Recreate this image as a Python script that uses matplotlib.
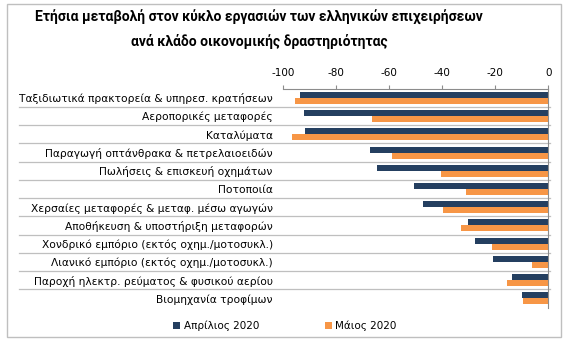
import numpy as np
import matplotlib.pyplot as plt
from matplotlib.patches import Rectangle
from matplotlib.transforms import blended_transform_factory

# δεδομένα (ετήσια μεταβολή %, ανά κλάδο)
categories = [
    "Ταξιδιωτικά πρακτορεία & υπηρεσ. κρατήσεων",
    "Αεροπορικές μεταφορές",
    "Καταλύματα",
    "Παραγωγή οπτάνθρακα & πετρελαιοειδών",
    "Πωλήσεις & επισκευή οχημάτων",
    "Ποτοποιία",
    "Χερσαίες μεταφορές & μεταφ. μέσω αγωγών",
    "Αποθήκευση & υποστήριξη μεταφορών",
    "Χονδρικό εμπόριο (εκτός οχημ./μοτοσυκλ.)",
    "Λιανικό εμπόριο (εκτός οχημ./μοτοσυκλ.)",
    "Παροχή ηλεκτρ. ρεύματος & φυσικού αερίου",
    "Βιομηχανία τροφίμων",
]
april = [-93.7, -92.2, -91.8, -67.4, -64.6, -50.8, -47.3, -30.4, -27.5, -21.0, -13.8, -9.8]
may = [-95.7, -66.6, -96.7, -58.9, -40.5, -31.2, -39.6, -32.9, -21.1, -6.2, -15.5, -9.5]
xticks = [-100, -80, -60, -40, -20, 0]

title = "Ετήσια μεταβολή στον κύκλο εργασιών των ελληνικών επιχειρήσεων\nανά κλάδο οικονομικής δραστηριότητας"
series_names = ["Απρίλιος 2020", "Μάιος 2020"]
colors = ["#243F60", "#F79646"]

plt.rcParams["font.family"] = ["DejaVu Sans"]
plt.rcParams["axes.unicode_minus"] = False

fig = plt.figure(figsize=(5.73, 3.49), dpi=100)
ax = fig.add_axes([0.4944, 0.1189, 0.4626, 0.6267])

y = np.arange(len(categories))
h = 0.33
ax.barh(y - h / 2, april, height=h, color=colors[0], label=series_names[0])
ax.barh(y + h / 2, may, height=h, color=colors[1], label=series_names[1])

ax.set_xlim(-100, 0)
ax.set_ylim(len(categories) - 0.5, -0.5)
ax.set_xticks(xticks)
ax.xaxis.tick_top()
ax.tick_params(axis="x", direction="out", length=3, width=0.8, color="#8c8c8c",
               labelsize=7.5, pad=5)
ax.set_yticks(y)
ax.set_yticklabels(categories, fontsize=7.65)
ax.tick_params(axis="y", length=0, pad=7.5)

for s in ["left", "bottom"]:
    ax.spines[s].set_visible(False)
for s in ["top", "right"]:
    ax.spines[s].set_color("#8c8c8c")
    ax.spines[s].set_linewidth(0.8)

# γραμμές διαχωρισμού κατηγοριών
trans = blended_transform_factory(ax.transAxes, ax.transData)
for i in range(len(categories) - 1):
    ax.plot([-0.997, 1.008], [i + 0.5, i + 0.5], transform=trans, color="#bfbfbf",
            lw=0.9, clip_on=False, zorder=0)

fig.text(0.452, 0.916, title, ha="center", va="center", fontsize=10,
         fontweight="bold", family="Roboto", linespacing=1.75)

fig.legend(loc="center", bbox_to_anchor=(0.497, 0.066), ncol=2, frameon=False,
           fontsize=7.5, handlelength=0.7, handleheight=0.7, handletextpad=0.3,
           columnspacing=6.3)

fig.patches.append(Rectangle((7 / 573, 1 - 337 / 349), 554 / 573, 333 / 349,
                             transform=fig.transFigure, fill=False,
                             edgecolor="#bfbfbf", lw=1))

fig.savefig("out.png", dpi=100)
